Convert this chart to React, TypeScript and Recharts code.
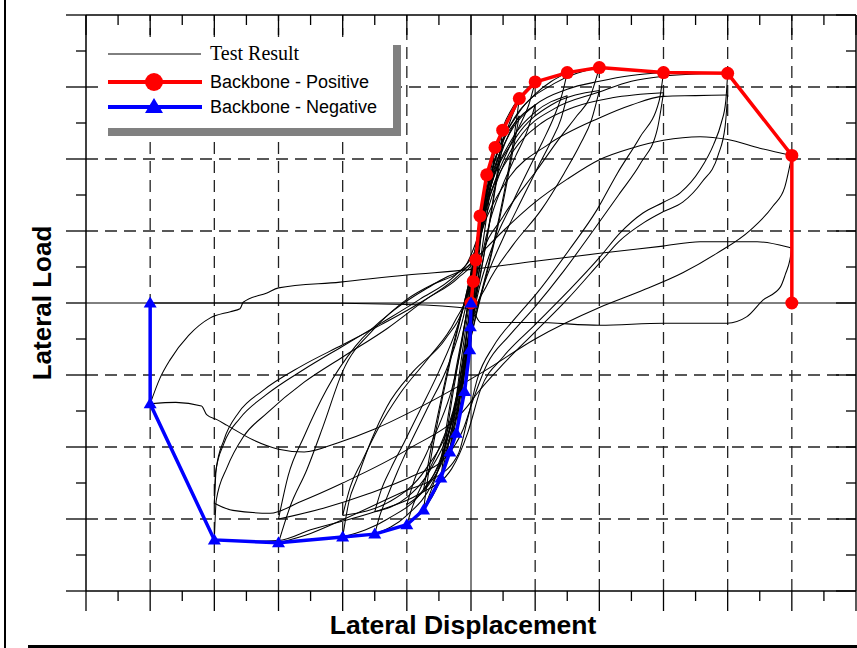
import { LineChart, Line, XAxis, YAxis, ReferenceLine, Legend } from 'recharts';

// axis ticks (no labels in the original, only major / minor marks)
const xTicks = [-6, -5.5, -5, -4.5, -4, -3.5, -3, -2.5, -2, -1.5, -1, -0.5, 0, 0.5, 1, 1.5, 2, 2.5, 3, 3.5, 4, 4.5, 5, 5.5, 6];
const yTicks = [-4, -3.5, -3, -2.5, -2, -1.5, -1, -0.5, 0, 0.5, 1, 1.5, 2, 2.5, 3, 3.5, 4];
const xGrid = [-5, -4, -3, -2, -1, 1, 2, 3, 4, 5];
const yGrid = [-3, -2, -1, 1, 2, 3];

// backbone curves [displacement, load]
const backbonePos = [[0, 0], [0.036, 0.3], [0.074, 0.6], [0.14, 1.21], [0.245, 1.78], [0.374, 2.16], [0.494, 2.4], [0.753, 2.84], [1.0, 3.07], [1.5, 3.2], [2.0, 3.27], [3.0, 3.2], [4.0, 3.19], [5.0, 2.05], [5.0, 0]];
const backboneNeg = [[0, 0], [-0.01, -0.33], [-0.02, -0.65], [-0.1, -1.23], [-0.23, -1.81], [-0.33, -2.07], [-0.47, -2.43], [-0.74, -2.875], [-1.0, -3.08], [-1.5, -3.21], [-2.0, -3.25], [-3.0, -3.33], [-4.0, -3.29], [-5.0, -1.4], [-5.0, 0]];

// test result branches, small cycles
const c1Up = [[-0.01, -0.33], [0.0, -0.12], [0.02, 0.12], [0.036, 0.3]];
const c1Dn = [[0.036, 0.3], [0.025, 0.08], [0.005, -0.12], [-0.01, -0.33]];
const c2Up = [[-0.02, -0.65], [0.0, -0.3], [0.03, 0.1], [0.055, 0.38], [0.074, 0.6]];
const c2Dn = [[0.074, 0.6], [0.06, 0.32], [0.035, -0.05], [0.01, -0.38], [-0.02, -0.65]];
const c3Up = [[-0.1, -1.23], [-0.07, -0.85], [-0.03, -0.35], [0.02, 0.15], [0.08, 0.7], [0.14, 1.21]];
const c3Dn = [[0.14, 1.21], [0.115, 0.82], [0.07, 0.28], [0.02, -0.3], [-0.04, -0.82], [-0.1, -1.23]];
const c4Up = [[-0.23, -1.81], [-0.18, -1.35], [-0.1, -0.7], [0.0, 0.0], [0.08, 0.6], [0.17, 1.25], [0.245, 1.78]];
const c4Dn = [[0.245, 1.78], [0.2, 1.32], [0.13, 0.7], [0.04, 0.0], [-0.05, -0.65], [-0.15, -1.32], [-0.23, -1.81]];
const c5Up = [[-0.33, -2.07], [-0.27, -1.6], [-0.17, -0.9], [-0.05, -0.15], [0.07, 0.55], [0.2, 1.3], [0.3, 1.8], [0.374, 2.16]];
const c5Dn = [[0.374, 2.16], [0.32, 1.72], [0.22, 1.05], [0.1, 0.3], [-0.03, -0.45], [-0.15, -1.15], [-0.26, -1.7], [-0.33, -2.07]];
const c6Up = [[-0.47, -2.43], [-0.4, -1.95], [-0.28, -1.25], [-0.12, -0.4], [0.02, 0.3], [0.15, 1.0], [0.3, 1.7], [0.41, 2.12], [0.494, 2.4]];
const c6Dn = [[0.494, 2.4], [0.43, 1.95], [0.32, 1.3], [0.16, 0.45], [0.0, -0.3], [-0.14, -1.0], [-0.3, -1.75], [-0.4, -2.15], [-0.47, -2.43]];
const c6bUp = [[-0.47, -2.2], [-0.38, -1.7], [-0.25, -1.0], [-0.08, -0.2], [0.05, 0.45], [0.18, 1.1], [0.33, 1.75], [0.494, 2.2]];
const c6bDn = [[0.494, 2.2], [0.4, 1.7], [0.27, 1.0], [0.1, 0.2], [-0.04, -0.45], [-0.18, -1.1], [-0.33, -1.75], [-0.47, -2.2]];
const c7Up = [[-0.74, -2.875], [-0.66, -2.35], [-0.52, -1.65], [-0.32, -0.8], [-0.12, -0.05], [0.05, 0.6], [0.22, 1.3], [0.42, 2.0], [0.6, 2.5], [0.753, 2.84]];
const c7Dn = [[0.753, 2.84], [0.67, 2.3], [0.53, 1.6], [0.33, 0.75], [0.12, 0.0], [-0.05, -0.65], [-0.22, -1.35], [-0.42, -2.05], [-0.6, -2.55], [-0.74, -2.875]];
const c7bUp = [[-0.74, -2.6], [-0.64, -2.1], [-0.48, -1.4], [-0.28, -0.6], [-0.08, 0.1], [0.08, 0.75], [0.26, 1.45], [0.46, 2.05], [0.62, 2.4], [0.753, 2.6]];
const c7bDn = [[0.753, 2.6], [0.65, 2.1], [0.5, 1.4], [0.3, 0.6], [0.1, -0.1], [-0.07, -0.75], [-0.25, -1.45], [-0.45, -2.1], [-0.62, -2.45], [-0.74, -2.6]];

// +-1, +-1.5, +-2 cycles
const c8Up = [[-1.0, -3.08], [-0.9, -2.8], [-0.75, -2.5], [-0.59, -2.2], [-0.42, -1.85], [-0.28, -1.5], [-0.14, -0.9], [-0.04, -0.25], [0.04, 0.4], [0.14, 1.1], [0.28, 1.8], [0.5, 2.45], [0.75, 2.85], [1.0, 3.07]];
const c8Dn = [[1.0, 3.07], [0.9, 2.75], [0.75, 2.45], [0.59, 2.15], [0.42, 1.8], [0.28, 1.45], [0.14, 0.85], [0.04, 0.2], [-0.04, -0.45], [-0.14, -1.15], [-0.28, -1.85], [-0.5, -2.5], [-0.75, -2.88], [-1.0, -3.08]];
const c8bUp = [[-1.0, -2.8], [-0.88, -2.45], [-0.7, -2.1], [-0.5, -1.7], [-0.3, -1.2], [-0.15, -0.6], [-0.04, 0.05], [0.06, 0.7], [0.2, 1.4], [0.4, 2.05], [0.68, 2.5], [1.0, 2.75]];
const c8bDn = [[1.0, 2.75], [0.88, 2.4], [0.7, 2.05], [0.5, 1.65], [0.3, 1.15], [0.15, 0.55], [0.04, -0.1], [-0.06, -0.75], [-0.2, -1.45], [-0.4, -2.1], [-0.68, -2.55], [-1.0, -2.8]];
const c9Up = [[-1.5, -3.21], [-1.42, -2.95], [-1.31, -2.7], [-1.15, -2.35], [-1.0, -2.05], [-0.7, -1.5], [-0.35, -0.85], [-0.12, -0.2], [0.02, 0.4], [0.14, 1.05], [0.3, 1.75], [0.6, 2.45], [1.0, 2.9], [1.5, 3.2]];
const c9Dn = [[1.5, 3.2], [1.42, 2.9], [1.3, 2.6], [1.12, 2.25], [0.95, 1.95], [0.65, 1.4], [0.32, 0.75], [0.1, 0.1], [-0.03, -0.5], [-0.15, -1.15], [-0.33, -1.85], [-0.6, -2.5], [-1.0, -2.95], [-1.5, -3.21]];
const c9bUp = [[-1.5, -2.9], [-1.4, -2.6], [-1.25, -2.3], [-1.05, -1.95], [-0.8, -1.5], [-0.5, -0.95], [-0.22, -0.35], [-0.02, 0.25], [0.12, 0.9], [0.3, 1.6], [0.62, 2.25], [1.0, 2.65], [1.5, 2.88]];
const c9bDn = [[1.5, 2.88], [1.4, 2.55], [1.25, 2.25], [1.05, 1.9], [0.8, 1.45], [0.5, 0.9], [0.22, 0.3], [0.02, -0.3], [-0.12, -0.95], [-0.3, -1.65], [-0.62, -2.3], [-1.0, -2.7], [-1.5, -2.9]];
const c10Up = [[-2.0, -3.25], [-1.9, -2.75], [-1.78, -2.45], [-1.55, -1.9], [-1.31, -1.44], [-0.9, -0.95], [-0.4, -0.5], [-0.1, 0.0], [0.05, 0.6], [0.17, 1.25], [0.38, 2.0], [0.75, 2.65], [1.3, 3.05], [2.0, 3.27]];
const c10Dn = [[2.0, 3.27], [1.85, 2.85], [1.65, 2.6], [1.39, 2.3], [1.03, 1.85], [0.5, 1.2], [0.15, 0.6], [0.0, 0.0], [-0.1, -0.6], [-0.22, -1.3], [-0.4, -2.0], [-0.75, -2.6], [-1.3, -3.0], [-2.0, -3.25]];
const c10bUp = [[-2.0, -2.95], [-1.88, -2.55], [-1.7, -2.2], [-1.45, -1.75], [-1.1, -1.25], [-0.65, -0.75], [-0.25, -0.25], [0.0, 0.3], [0.12, 0.95], [0.32, 1.65], [0.7, 2.3], [1.25, 2.75], [2.0, 2.95]];
const c10bDn = [[2.0, 2.95], [1.88, 2.55], [1.7, 2.2], [1.45, 1.8], [1.1, 1.3], [0.65, 0.8], [0.25, 0.25], [0.0, -0.3], [-0.12, -0.95], [-0.32, -1.65], [-0.7, -2.3], [-1.25, -2.75], [-2.0, -2.95]];

// +-3, +-4 cycles
const c11Up = [[-3.0, -3.33], [-2.82, -2.83], [-2.56, -2.32], [-2.3, -1.7], [-2.0, -0.95], [-1.5, -0.35], [-1.0, 0.05], [-0.4, 0.35], [0.0, 0.55], [0.12, 1.0], [0.3, 1.7], [0.6, 2.35], [1.0, 2.75], [1.5, 2.97], [2.0, 3.08], [2.5, 3.16], [3.0, 3.2]];
const c11Dn = [[3.0, 3.2], [2.93, 2.8], [2.63, 2.3], [2.28, 1.8], [1.96, 1.29], [1.54, 0.75], [1.03, 0.14], [0.7, -0.2], [0.35, -0.6], [0.1, -1.05], [-0.05, -1.6], [-0.2, -2.1], [-0.6, -2.45], [-1.0, -2.6], [-2.0, -3.01], [-2.5, -3.2], [-3.0, -3.33]];
const c11bUp = [[-3.0, -3.0], [-2.85, -2.4], [-2.6, -1.85], [-2.25, -1.2], [-1.8, -0.6], [-1.2, -0.1], [-0.6, 0.25], [-0.1, 0.5], [0.1, 0.9], [0.3, 1.5], [0.65, 2.1], [1.1, 2.5], [1.6, 2.72], [2.2, 2.85], [3.0, 2.92]];
const c11bDn = [[3.0, 2.92], [2.9, 2.4], [2.65, 1.95], [2.3, 1.5], [1.9, 1.0], [1.45, 0.45], [1.0, -0.05], [0.6, -0.45], [0.25, -0.85], [0.05, -1.3], [-0.12, -1.75], [-0.4, -2.15], [-0.9, -2.4], [-1.6, -2.65], [-2.3, -2.85], [-3.0, -3.0]];
const c12Up = [[-4.0, -3.29], [-3.97, -2.74], [-3.8, -2.28], [-3.55, -1.86], [-3.18, -1.53], [-2.6, -1.1], [-2.0, -0.75], [-1.3, -0.35], [-0.7, 0.05], [-0.2, 0.35], [0.05, 0.6], [0.2, 1.1], [0.45, 1.8], [0.8, 2.35], [1.3, 2.7], [2.0, 2.93], [2.5, 3.08], [3.0, 3.15], [3.5, 3.18], [4.0, 3.19]];
const c12Dn = [[4.0, 3.19], [3.97, 2.8], [3.9, 2.5], [3.78, 2.2], [3.57, 1.85], [3.26, 1.53], [3.0, 1.4], [2.68, 1.25], [2.32, 0.97], [2.01, 0.64], [1.5, 0.15], [1.0, -0.3], [0.5, -0.75], [0.15, -1.2], [-0.05, -1.8], [-0.3, -2.3], [-0.8, -2.65], [-1.5, -2.9], [-2.5, -3.15], [-3.0, -3.3], [-3.5, -3.31], [-4.0, -3.29]];
const c12bUp = [[-4.0, -2.78], [-3.98, -2.35], [-3.85, -1.95], [-3.6, -1.6], [-3.2, -1.28], [-2.6, -0.92], [-2.0, -0.6], [-1.4, -0.28], [-0.8, 0.05], [-0.25, 0.38], [0.05, 0.7], [0.25, 1.2], [0.6, 1.75], [1.2, 2.2], [2.0, 2.57], [2.5, 2.75], [3.0, 2.87], [3.5, 2.88], [4.0, 2.89]];
const c12bDn = [[4.0, 2.89], [3.96, 2.45], [3.85, 2.05], [3.6, 1.68], [3.3, 1.4], [3.0, 1.27], [2.7, 1.12], [2.3, 0.85], [2.0, 0.55], [1.5, 0.05], [1.0, -0.4], [0.5, -0.85], [0.1, -1.25], [-0.06, -1.44], [-1.0, -2.04], [-2.0, -2.5], [-2.66, -2.76], [-3.13, -2.92], [-3.71, -2.88], [-4.0, -2.78]];

// +-5 cycles
const c13Up = [[-4.0, -2.78], [-3.97, -2.3], [-3.85, -1.9], [-3.62, -1.52], [-3.25, -1.22], [-2.65, -0.88], [-2.0, -0.58], [-1.4, -0.3], [-0.8, 0.0], [-0.3, 0.3], [0.0, 0.55], [0.5, 1.0], [1.0, 1.4], [1.5, 1.72], [2.0, 1.99], [2.5, 2.15], [3.0, 2.26], [3.57, 2.31], [4.0, 2.27], [4.5, 2.15], [5.0, 2.05]];
const c13Dn = [[5.0, 2.05], [4.89, 1.61], [4.71, 1.35], [4.35, 1.01], [3.83, 0.69], [3.3, 0.42], [2.6, 0.15], [2.01, -0.06], [1.0, -0.5], [0.2, -0.95], [-0.8, -1.45], [-1.5, -1.75], [-2.07, -1.94], [-2.6, -2.07], [-3.0, -2.03], [-3.4, -1.9], [-3.8, -1.7], [-3.96, -1.62], [-4.12, -1.55], [-4.2, -1.43], [-4.6, -1.38], [-5.0, -1.4]];
const c14Up = [[-5.0, -1.4], [-4.85, -1.05], [-4.69, -0.79], [-4.4, -0.45], [-4.07, -0.21], [-3.75, -0.12], [-3.6, -0.08], [-3.55, 0.01], [-3.18, 0.14], [-3.0, 0.21], [-2.04, 0.29], [-1.0, 0.39], [-0.06, 0.46], [1.0, 0.58], [2.01, 0.69], [2.99, 0.79], [3.57, 0.85], [4.46, 0.85], [4.92, 0.78], [5.0, 0.76]];
const c14Dn = [[5.0, 0.76], [4.97, 0.6], [4.9, 0.4], [4.82, 0.22], [4.55, 0.04], [4.3, -0.19], [3.99, -0.28], [3.0, -0.28], [2.01, -0.31], [1.0, -0.27], [0.15, -0.27], [0.0, -0.08], [-1.0, -0.02], [-3.0, 0.0], [-5.0, 0.0]];

const testCurves = [
  c1Up, c1Dn, c2Up, c2Dn, c3Up, c3Dn, c4Up, c4Dn, c5Up, c5Dn, c6Up, c6Dn, c6bUp, c6bDn, c7Up, c7Dn, c7bUp, c7bDn,
  c8Up, c8Dn, c8bUp, c8bDn, c9Up, c9Dn, c9bUp, c9bDn, c10Up, c10Dn, c10bUp, c10bDn,
  c11Up, c11Dn, c11bUp, c11bDn, c12Up, c12Dn, c12bUp, c12bDn, c13Up, c13Dn, c14Up, c14Dn,
];

const toPts = (arr: number[][]) => arr.map(([x, y]) => ({ x, y }));

const TickMark = ({ x, y, payload, side }: any) => {
  const len = Number.isInteger(payload.value) ? 20 : 10;
  if (side === 'bottom' || side === 'top') {
    return <line x1={x} y1={y} x2={x} y2={y + len} stroke="#000" strokeWidth={1.3} />;
  }
  return <line x1={x} y1={y} x2={x - len} y2={y} stroke="#000" strokeWidth={1.3} />;
};

const TriangleDot = (props: any) => {
  const { cx, cy, index } = props;
  if (cx == null || cy == null) return null;
  return <polygon key={index} points={`${cx},${cy - 6.5} ${cx - 6.5},${cy + 4.5} ${cx + 6.5},${cy + 4.5}`} fill="#0000ff" />;
};

const LegendBox = () => (
  <div style={{ width: 293, height: 91, background: '#fff', boxShadow: '8px 8px 0 #808080' }}>
    <svg width={293} height={91}>
      <line x1={8} y1={17} x2={101} y2={17} stroke="#000" strokeWidth={1} />
      <text x={110} y={23} fontFamily="'Liberation Serif', serif" fontSize={20} fill="#000">Test Result</text>
      <line x1={8} y1={45} x2={102} y2={45} stroke="#ff0000" strokeWidth={4} />
      <circle cx={54} cy={45} r={9} fill="#ff0000" />
      <text x={110} y={51} fontFamily="'Liberation Sans', Arial, sans-serif" fontSize={18} fill="#000">Backbone - Positive</text>
      <line x1={8} y1={70} x2={102} y2={70} stroke="#0000ff" strokeWidth={4} />
      <polygon points="54,61 45,76 63,76" fill="#0000ff" />
      <text x={110} y={76} fontFamily="'Liberation Sans', Arial, sans-serif" fontSize={18} fill="#000">Backbone - Negative</text>
    </svg>
  </div>
);

const App = () => {
  return (
    <div style={{ position: 'absolute', left: 0, top: 0, width: 857, height: 648, background: '#fff' }}>
      <LineChart width={857} height={648} margin={{ top: 0, right: 0, bottom: 0, left: 0 }}>
        <XAxis xAxisId="b" dataKey="x" type="number" domain={[-6, 6]} ticks={xTicks} interval={0} allowDataOverflow
          height={57} tickSize={0} tickMargin={0} tickLine={false}
          axisLine={{ stroke: '#000', strokeWidth: 1.5 }}
          tick={(p: any) => <TickMark {...p} side="bottom" />}
          label={{
            content: (p: any) => (
              <text x={p.viewBox.x + p.viewBox.width / 2 - 8} y={p.viewBox.y + 43} textAnchor="middle"
                fontFamily="'Liberation Sans', Arial, sans-serif" fontWeight="bold" fontSize={26.5} fill="#000">
                Lateral Displacement
              </text>
            ),
          }}
        />
        <XAxis xAxisId="t" orientation="top" dataKey="x" type="number" domain={[-6, 6]} ticks={xTicks} interval={0} allowDataOverflow
          height={15} tickSize={0} tickMargin={0} tickLine={false}
          axisLine={{ stroke: '#000', strokeWidth: 1.5 }}
          tick={(p: any) => <TickMark {...p} side="top" />}
        />
        <YAxis yAxisId="l" type="number" domain={[-4, 4]} ticks={yTicks} interval={0} allowDataOverflow
          width={86} tickSize={0} tickMargin={0} tickLine={false}
          axisLine={{ stroke: '#000', strokeWidth: 1.5 }}
          tick={(p: any) => <TickMark {...p} side="left" />}
          label={{
            content: (p: any) => (
              <text x={51} y={p.viewBox.y + p.viewBox.height / 2} textAnchor="middle"
                transform={`rotate(-90, 51, ${p.viewBox.y + p.viewBox.height / 2})`}
                fontFamily="'Liberation Sans', Arial, sans-serif" fontWeight="bold" fontSize={26} fill="#000">
                Lateral Load
              </text>
            ),
          }}
        />
        <YAxis yAxisId="r" orientation="right" type="number" domain={[-4, 4]} ticks={yTicks} interval={0} allowDataOverflow
          width={1} tickSize={0} tickMargin={0} tickLine={false}
          axisLine={{ stroke: '#000', strokeWidth: 1.5 }}
          tick={(p: any) => <TickMark {...p} side="right" />}
        />

        {xGrid.map((v) => (
          <ReferenceLine key={`gx${v}`} x={v} xAxisId="b" yAxisId="l" stroke="#222" strokeWidth={1.3} strokeDasharray="12 7" />
        ))}
        {yGrid.map((v) => (
          <ReferenceLine key={`gy${v}`} y={v} xAxisId="b" yAxisId="l" stroke="#222" strokeWidth={1.3} strokeDasharray="12 7" />
        ))}
        <ReferenceLine x={0} xAxisId="b" yAxisId="l" stroke="#000" strokeWidth={1} />
        <ReferenceLine y={0} xAxisId="b" yAxisId="l" stroke="#000" strokeWidth={1} />

        {testCurves.map((c, i) => (
          <Line key={`t${i}`} xAxisId="b" yAxisId="l" data={toPts(c)} dataKey="y" type="monotone"
            stroke="#000" strokeWidth={1.05} dot={false} activeDot={false} isAnimationActive={false} />
        ))}

        <Line xAxisId="b" yAxisId="l" data={toPts(backbonePos)} dataKey="y" type="linear"
          stroke="#ff0000" strokeWidth={3.5} dot={{ r: 6.5, fill: '#ff0000', stroke: 'none' }} activeDot={false}
          isAnimationActive={false} />
        <Line xAxisId="b" yAxisId="l" data={toPts(backboneNeg)} dataKey="y" type="linear"
          stroke="#0000ff" strokeWidth={3.5} dot={<TriangleDot />} activeDot={false}
          isAnimationActive={false} />

        <Legend layout="vertical" align="center" verticalAlign="middle" content={<LegendBox />}
          wrapperStyle={{ left: 100, top: 37, width: 293, height: 91 }} />
      </LineChart>
      <div style={{ position: 'absolute', left: 4, top: 0, width: 2, height: 648, background: '#000' }} />
      <div style={{ position: 'absolute', left: 28, top: 645, width: 829, height: 3, background: '#000' }} />
    </div>
  );
};

export default App;
